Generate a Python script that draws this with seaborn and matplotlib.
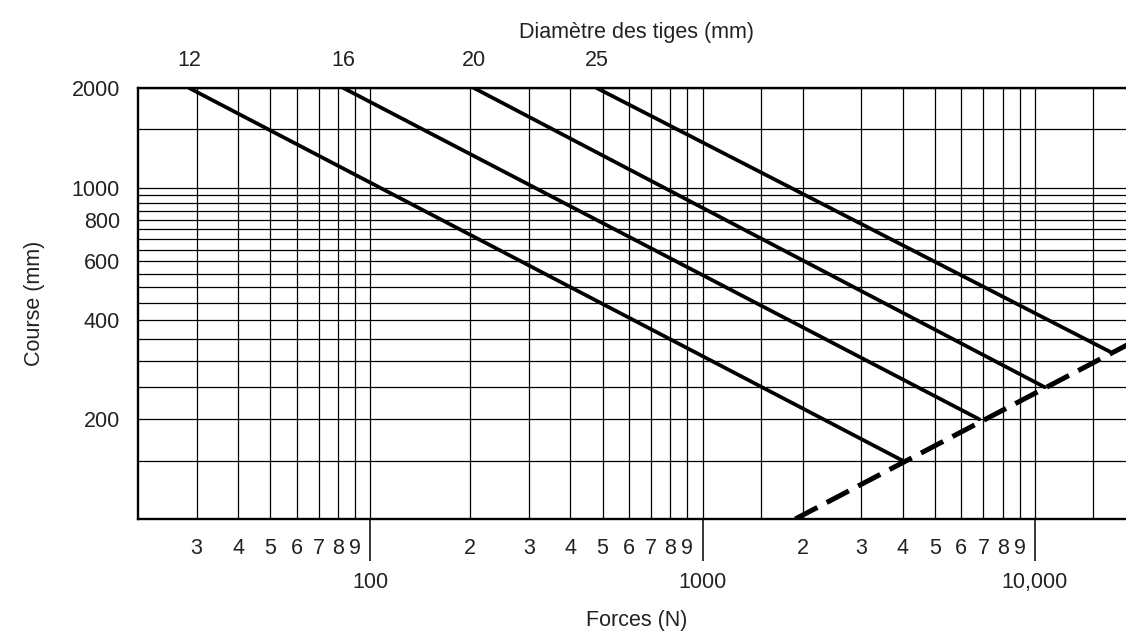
import matplotlib
matplotlib.use("Agg")
import matplotlib.pyplot as plt
import pandas as pd
import seaborn as sns
from matplotlib.ticker import FixedLocator, FixedFormatter

# diamètre des tiges : droites de 2000 mm jusqu'à la limite
diametres = [12, 16, 20, 25]
force_debut = [28.5, 83, 205, 480]
course_debut = [2000, 2000, 2000, 2000]
force_fin = [4000, 6800, 10700, 16800]
course_fin = [150, 200, 250, 320]

# droite limite en pointillés
limite_force = [1900, 20000]
limite_course = [100, 345]

x_major = [100, 1000, 10000]
x_major_labels = ["100", "1000", "10,000"]
x_minor = [30, 40, 50, 60, 70, 80, 90,
           200, 300, 400, 500, 600, 700, 800, 900,
           1500, 2000, 3000, 4000, 5000, 6000, 7000, 8000, 9000, 15000]
x_minor_labels = ["3", "4", "5", "6", "7", "8", "9",
                  "2", "3", "4", "5", "6", "7", "8", "9",
                  "", "2", "3", "4", "5", "6", "7", "8", "9", ""]
y_major = [200, 400, 600, 800, 1000, 2000]
y_minor = [150, 250, 300, 350, 450, 500, 550, 650, 700, 750, 850, 900, 950, 1500]

FS = 15.5
TXT = "#222222"

sns.set_theme(style="white")
plt.rcParams["font.family"] = ["Liberation Sans", "DejaVu Sans"]
plt.rcParams["font.size"] = FS

rows = []
for d, x0, y0, x1, y1 in zip(diametres, force_debut, course_debut, force_fin, course_fin):
    rows.append({"diametre": d, "force": x0, "course": y0})
    rows.append({"diametre": d, "force": x1, "course": y1})
df = pd.DataFrame(rows)

fig = plt.figure(figsize=(11.26, 6.35), dpi=100)
ax = fig.add_axes([138 / 1126, 116 / 635, 997 / 1126, 431 / 635])
ax.set_xscale("log")
ax.set_yscale("log")

sns.lineplot(data=df, x="force", y="course", units="diametre", estimator=None,
             sort=False, color="black", lw=2.7, legend=False, ax=ax)
sns.lineplot(x=limite_force, y=limite_course, color="black", lw=3.6,
             linestyle=(0, (5.0, 2.1)), dash_capstyle="butt", ax=ax)

ax.set_xlim(20, 20000)
ax.set_ylim(100, 2000)

ax.xaxis.set_major_locator(FixedLocator(x_major))
ax.xaxis.set_major_formatter(FixedFormatter(x_major_labels))
ax.xaxis.set_minor_locator(FixedLocator(x_minor))
ax.xaxis.set_minor_formatter(FixedFormatter(x_minor_labels))
ax.yaxis.set_major_locator(FixedLocator(y_major))
ax.yaxis.set_major_formatter(FixedFormatter([str(v) for v in y_major]))
ax.yaxis.set_minor_locator(FixedLocator(y_minor))
ax.yaxis.set_minor_formatter(FixedFormatter([""] * len(y_minor)))

ax.tick_params(axis="x", which="major", length=30, width=1.1, color="black",
               pad=8.5, labelsize=FS, labelcolor=TXT, bottom=True)
ax.tick_params(axis="x", which="minor", length=0, pad=14, labelsize=FS,
               labelcolor=TXT, bottom=True)
ax.tick_params(axis="y", which="both", length=0, pad=13, labelsize=FS,
               labelcolor=TXT)

ax.grid(which="both", color="black", lw=0.9)
ax.set_axisbelow(True)
for side in ["left", "bottom", "top"]:
    ax.spines[side].set_color("black")
    ax.spines[side].set_linewidth(1.7)
ax.spines["right"].set_visible(False)

ax.set_xlabel("Forces (N)", fontsize=FS, color=TXT, labelpad=12)
ax.set_ylabel("Course (mm)", fontsize=FS, color=TXT, labelpad=19)

# axe du haut : diamètres des tiges
ax2 = ax.twiny()
ax2.set_xscale("log")
ax2.set_xlim(ax.get_xlim())
ax2.xaxis.set_major_locator(FixedLocator(force_debut))
ax2.xaxis.set_major_formatter(FixedFormatter([str(d) for d in diametres]))
ax2.xaxis.set_minor_locator(FixedLocator([]))
ax2.tick_params(axis="x", which="both", length=0, pad=12, labelsize=FS,
                labelcolor=TXT)
for s in ax2.spines.values():
    s.set_visible(False)
ax2.grid(False)
ax2.set_xlabel("Diamètre des tiges (mm)", fontsize=FS, color=TXT, labelpad=9)

fig.savefig("out.png", dpi=100)
